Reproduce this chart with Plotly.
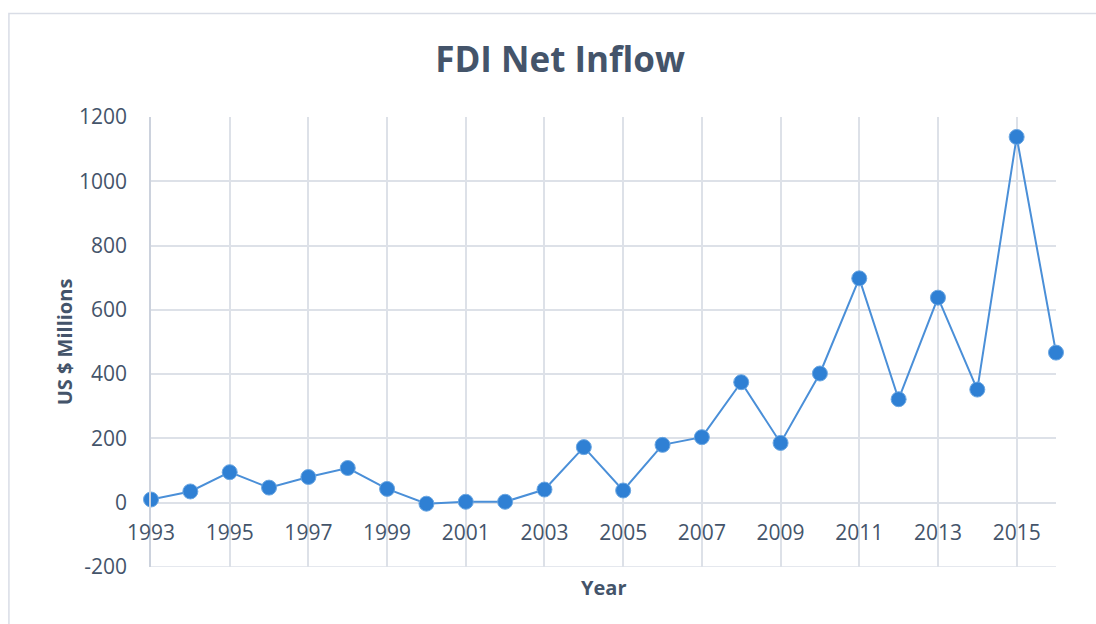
import plotly.graph_objects as go

# Data
years = list(range(1993, 2017))
fdi_inflow = [10, 35, 95, 47, 80, 108, 43, -3, 3, 3, 41, 173, 38, 180, 204,
              375, 186, 402, 698, 322, 638, 352, 1138, 467]
x_ticks = list(range(1993, 2016, 2))
y_ticks = list(range(-200, 1201, 200))
y_labels = [str(v) for v in y_ticks]  # plain hyphen for -200

TEXT = "#44546a"
GRID = "#dde1e8"
FONT = "Open Sans"

fig = go.Figure(
    go.Scatter(
        x=years,
        y=fdi_inflow,
        mode="lines+markers",
        line=dict(color="#4a8fd8", width=2),
        marker=dict(size=15, color="#2f80d4", line=dict(color="#6aa6e2", width=1)),
        cliponaxis=False,
        showlegend=False,
    )
)

# x axis labels sit at the zero line, like Excel "axis crosses at 0"
zero_pos = (0 - y_ticks[0]) / (y_ticks[-1] - y_ticks[0])

fig.update_layout(
    width=1096,
    height=624,
    paper_bgcolor="white",
    plot_bgcolor="white",
    margin=dict(l=151, r=40, t=117, b=57),
    font=dict(family=FONT, color=TEXT),
    title=dict(
        text="<b>FDI Net Inflow</b>",
        x=0.511,
        xanchor="center",
        y=0.905,
        yanchor="middle",
        font=dict(size=35, color=TEXT, family=FONT),
    ),
    xaxis=dict(
        range=[1993, 2016],
        tickvals=x_ticks,
        showgrid=True,
        gridcolor=GRID,
        gridwidth=1.5,
        zeroline=False,
        showline=False,
        anchor="free",
        position=zero_pos,
        ticks="",
        ticklabelstandoff=15,
        tickfont=dict(size=21, color=TEXT),
    ),
    yaxis=dict(
        range=[-200, 1200],
        tickvals=y_ticks,
        ticktext=y_labels,
        showgrid=True,
        gridcolor=GRID,
        gridwidth=1.5,
        zeroline=False,
        showline=True,
        linecolor="#ccd2dd",
        linewidth=1.5,
        ticks="",
        ticklabelstandoff=18,
        tickfont=dict(size=21, color=TEXT),
        title=dict(text="<b>US $ Millions</b>", font=dict(size=20, color=TEXT), standoff=1),
    ),
    annotations=[
        dict(
            text="<b>Year</b>",
            xref="paper",
            yref="paper",
            x=0.5,
            y=0,
            yshift=-20,
            xanchor="center",
            yanchor="middle",
            showarrow=False,
            font=dict(size=20, color=TEXT),
        )
    ],
    shapes=[
        # bottom gridline at -200
        dict(
            type="line",
            xref="paper",
            yref="y",
            x0=0,
            x1=1,
            y0=y_ticks[0],
            y1=y_ticks[0],
            line=dict(color=GRID, width=1.5),
            layer="below",
        ),
        # chart frame
        dict(
            type="rect",
            xref="paper",
            yref="paper",
            x0=-0.157,
            x1=1.06,
            y0=-0.2,
            y1=1.23,
            line=dict(color="#d9dde6", width=1.5),
        ),
    ],
)

fig.write_html(
    "out.html",
    config={"displayModeBar": False},
    post_script="document.body.style.margin='0';",
)
